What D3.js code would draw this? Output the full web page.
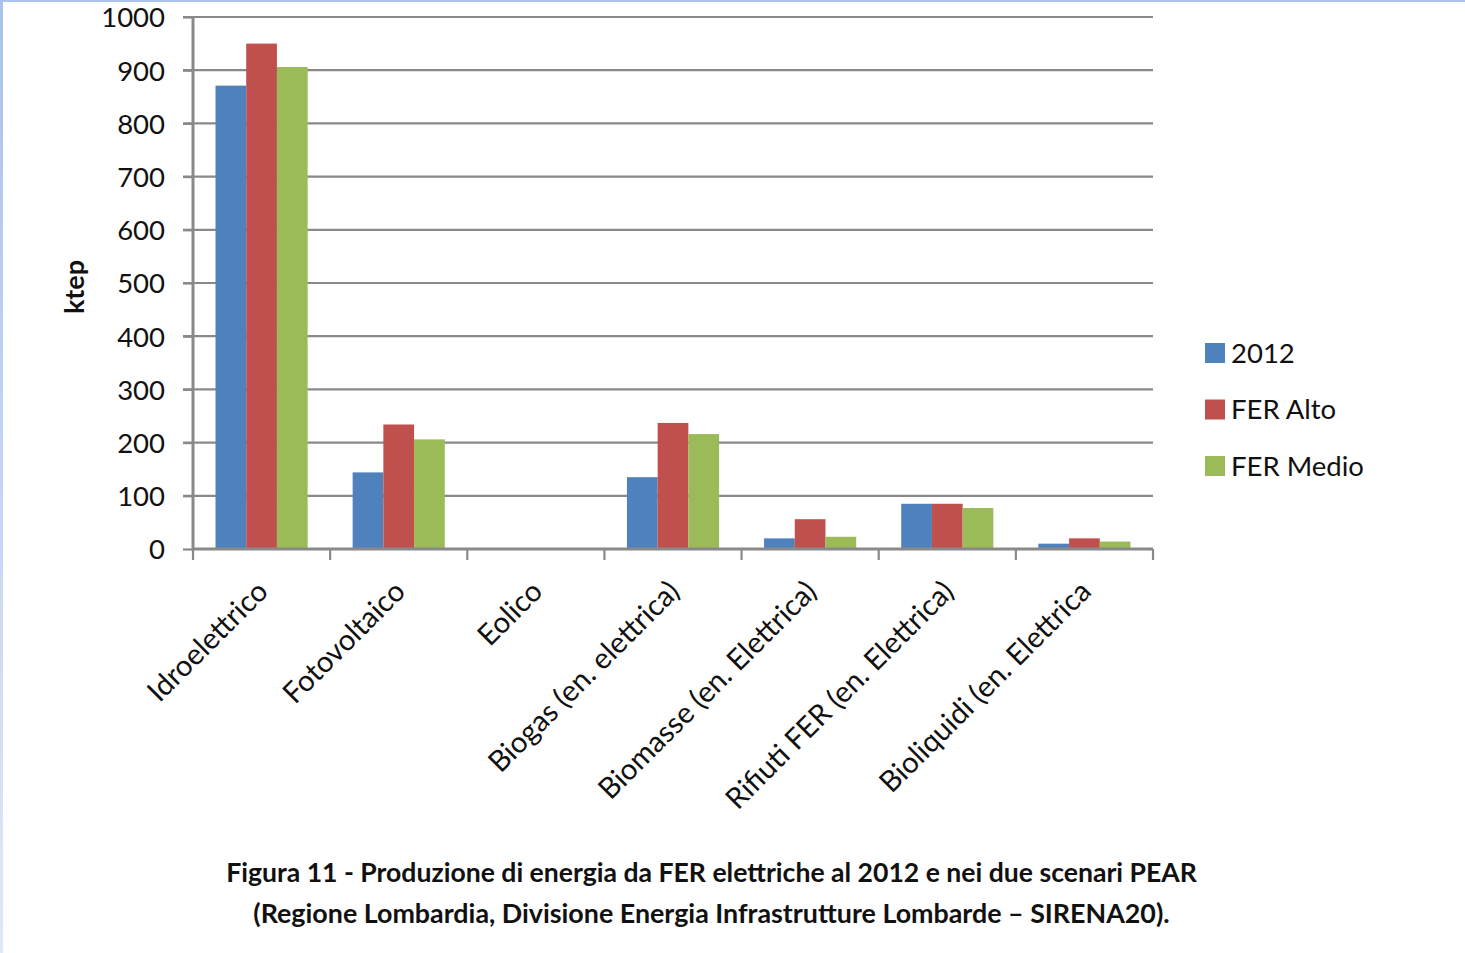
<!DOCTYPE html>
<html>
<head>
<meta charset="utf-8">
<script src="https://cdn.jsdelivr.net/npm/d3@7/dist/d3.min.js"></script>
<style>
  html, body { margin: 0; padding: 0; background: #fff; }
  svg { display: block; }
  text { font-family: Lato, "Open Sans", sans-serif; fill: #111; }
</style>
</head>
<body>
<svg id="chart" width="1465" height="953"></svg>
<script>
const categories = ["Idroelettrico", "Fotovoltaico", "Eolico", "Biogas (en. elettrica)",
  "Biomasse (en. Elettrica)", "Rifiuti FER (en. Elettrica)", "Bioliquidi (en. Elettrica"];
const seriesNames = ["2012", "FER Alto", "FER Medio"];
const values2012 = [871, 144, 0, 135, 20, 85, 10];
const valuesAlto = [950, 234, 0, 237, 56, 85, 20];
const valuesMedio = [906, 206, 0, 216, 23, 77, 14];
const yTicks = [0, 100, 200, 300, 400, 500, 600, 700, 800, 900, 1000];
const colors = ["#4f81bd", "#c0504d", "#9bbb59"];
const yTitle = "ktep";
const titleLines = [
  "Figura 11 - Produzione di energia da FER elettriche al 2012 e nei due scenari PEAR",
  "(Regione Lombardia, Divisione Energia Infrastrutture Lombarde \u2013 SIRENA20)."
];

(function () {
const seriesValues = [values2012, valuesAlto, valuesMedio];
const svg = d3.select("#chart");

// page frame (light blue edges)
const defs = svg.append("defs");
const grad = defs.append("linearGradient").attr("id", "edge").attr("x1", 0).attr("y1", 0).attr("x2", 0).attr("y2", 1);
grad.append("stop").attr("offset", "0%").attr("stop-color", "#a9c3ea");
grad.append("stop").attr("offset", "100%").attr("stop-color", "#dfe8f6");
svg.append("rect").attr("x", 0).attr("y", 0).attr("width", 3).attr("height", 953).attr("fill", "url(#edge)");
svg.append("rect").attr("x", 0).attr("y", 0).attr("width", 1465).attr("height", 2).attr("fill", "#a9c3ea");

const pLeft = 193, pRight = 1153, pTop = 17, pBottom = 549;
const x = d3.scaleBand().domain(categories).range([pLeft, pRight]).paddingInner(0).paddingOuter(0);
const inner = d3.scaleBand().domain(seriesNames).range([22.5, x.bandwidth() - 22.5]).padding(0);
const y = d3.scaleLinear().domain([0, 1000]).range([pBottom, pTop]);

const gridColor = "#898989";

// gridlines
svg.append("g").selectAll("line").data(yTicks.filter(d => d > 0)).join("line")
  .attr("x1", pLeft - 10).attr("x2", pRight)
  .attr("y1", d => y(d)).attr("y2", d => y(d))
  .attr("stroke", gridColor).attr("stroke-width", 2.2);

// bars
const groups = svg.append("g").selectAll("g").data(categories).join("g")
  .attr("transform", d => `translate(${x(d)},0)`);
groups.selectAll("rect").data((d, i) => seriesNames.map((s, k) => ({ s, k, v: seriesValues[k][i] })))
  .join("rect")
  .attr("x", d => inner(d.s))
  .attr("width", inner.bandwidth())
  .attr("y", d => y(d.v))
  .attr("height", d => pBottom - y(d.v))
  .attr("fill", d => colors[d.k]);

// y axis
const yAxis = svg.append("g").attr("transform", `translate(${pLeft},0)`)
  .call(d3.axisLeft(y).tickValues(yTicks).tickSize(10).tickPadding(18).tickFormat(d3.format("d")));
yAxis.select(".domain").attr("stroke", gridColor).attr("stroke-width", 3).attr("d", `M0,${pTop}V${pBottom}`);
yAxis.selectAll(".tick line").attr("stroke", gridColor).attr("stroke-width", 2.2);
yAxis.selectAll(".tick text").attr("font-size", 27.5).attr("fill", "#111").attr("font-family", "Lato").attr("dy", "0.36em");

// x axis
const boundaries = categories.map(c => x(c)).concat([pRight]);
svg.append("line").attr("x1", pLeft).attr("x2", pRight).attr("y1", pBottom).attr("y2", pBottom)
  .attr("stroke", gridColor).attr("stroke-width", 3);
svg.append("g").selectAll("line").data(boundaries).join("line")
  .attr("x1", d => d).attr("x2", d => d).attr("y1", pBottom).attr("y2", pBottom + 11)
  .attr("stroke", gridColor).attr("stroke-width", 2.2);

// x labels
svg.append("g").selectAll("text").data(categories).join("text")
  .attr("transform", d => `translate(${x(d) + x.bandwidth() / 2 + 1},${pBottom + 37}) rotate(-45)`)
  .attr("text-anchor", "end")
  .attr("dy", "0.35em")
  .attr("font-size", 29.2)
  .text(d => d);

// y title
svg.append("text")
  .attr("transform", `translate(84,287) rotate(-90)`)
  .attr("text-anchor", "middle")
  .attr("font-size", 27).attr("font-weight", "bold")
  .text(yTitle);

// legend
const legend = svg.append("g").selectAll("g").data(seriesNames).join("g")
  .attr("transform", (d, i) => `translate(1205,${353 + i * 56.5})`);
legend.append("rect").attr("x", 0).attr("y", -10).attr("width", 20).attr("height", 20)
  .attr("fill", (d, i) => colors[i]);
legend.append("text").attr("x", 26).attr("dy", "0.36em").attr("font-size", 27.5).text(d => d);

// caption
const targets = [[226, 1197, 872], [253, 1170, 913]];
titleLines.forEach((t, i) => {
  const [x0, x1, yc] = targets[i];
  const el = svg.append("text")
    .attr("x", (x0 + x1) / 2).attr("y", yc).attr("dy", "0.36em")
    .attr("text-anchor", "middle").attr("font-weight", "bold").attr("font-size", 24)
    .text(t);
  const w = el.node().getComputedTextLength();
  el.attr("font-size", 24 * (x1 - x0) / w);
});
})();
</script>
</body>
</html>
